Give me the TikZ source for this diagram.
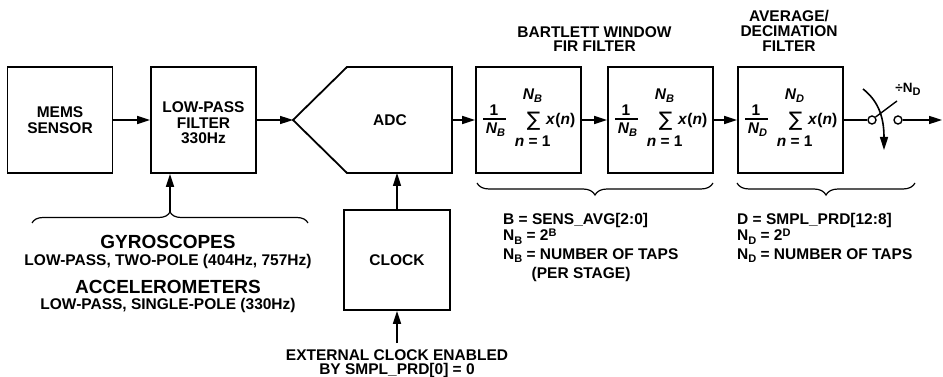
\documentclass[tikz,border=0pt]{standalone}
\usepackage{fontspec}
\setmainfont{Liberation Sans}
\newfontfamily\dejavu{DejaVu Sans}
\usetikzlibrary{arrows.meta,decorations.pathreplacing,calc}
\newcommand\lo[1]{\raisebox{-3.5pt}{\fontsize{11}{11}\selectfont #1}}
\newcommand\hi[1]{\raisebox{4.5pt}{\fontsize{11}{11}\selectfont #1}}
\begin{document}
\begin{tikzpicture}[x=1pt,y=-1pt,
  txt/.style={font=\fontsize{15.5}{14.5}\selectfont\bfseries, inner sep=0pt, align=center},
  big/.style={font=\fontsize{19}{19}\selectfont\bfseries, inner sep=0pt},
  blk/.style={draw, line width=1.8pt, minimum width=105pt, minimum height=106pt, inner sep=0pt, align=center, font=\fontsize{15.5}{15.5}\selectfont\bfseries},
  conn/.style={line width=1.6pt, -{Triangle[length=13pt,width=8pt]}},
  plain/.style={line width=1.6pt},
  brc/.style={line width=1.2pt, decorate, decoration={brace, amplitude=11pt}},
  brcm/.style={line width=1.2pt, decorate, decoration={brace, mirror, amplitude=12pt}},
  ftxt/.style={font=\fontsize{15.5}{15.5}\selectfont\bfseries, inner sep=0pt},
  pics/firsum/.style={code={
    \node[ftxt, anchor=base] (-one) at (-34.5,-4) {1};
    \draw[line width=1.3pt] (-45.5,-1) -- (-22.5,-1);
    \node[ftxt, anchor=base] (-den) at (-33,13.3) {\textit{N\lo{#1}}};
    \node[inner sep=0pt, font=\dejavu\fontsize{20}{20}\selectfont] (-sum) at (5,1.7) {∑};
    \node[ftxt, anchor=base] (-top) at (4,-20.7) {\textit{N\lo{#1}}};
    \node[ftxt, anchor=base] (-bot) at (4.2,26.7) {\textit{n} = 1};
    \node[ftxt, anchor=base] (-xn) at (32.2,5) {\textit{x}(\textit{n})};
  }},
]
\useasboundingbox (0,0) rectangle (943,377);
% blocks
\node[blk] (mems) at (60,120) {MEMS\\SENSOR};
\node[blk] (lpf) at (203.5,120) {};
\node[txt, font=\fontsize{15.5}{15.5}\selectfont\bfseries] (lpft) at (203.5,123) {LOW-PASS\\FILTER\\330Hz};
\draw[line width=1.8pt] (293,120) -- (347,67) -- (452,67) -- (452,173) -- (347,173) -- cycle;
\node[txt] (adc) at (390,120) {ADC};
\coordinate (adcin) at (293,120);
\coordinate (adcout) at (452,120);
\coordinate (adcbot) at (397,173);
\node[blk, minimum width=106pt, minimum height=100pt] (clock) at (397,260) {CLOCK};
\coordinate (extin) at (397,343);
\node[txt, anchor=north, font=\fontsize{15.5}{14.2}\selectfont\bfseries] (ext) at (397,349.5) {EXTERNAL CLOCK ENABLED\\BY SMPL\_PRD[0] = 0};
\node[blk] (b1) at (528.5,120) {};
\node[blk] (b2) at (660.5,120) {};
\node[blk] (dec) at (790.5,120) {};
\pic (f1) at (528.5,120) {firsum=B};
\pic (f2) at (660.5,120) {firsum=B};
\pic (f3) at (790.5,120) {firsum=D};
% titles
\node[txt, anchor=north, font=\fontsize{15.5}{14}\selectfont\bfseries] (bt) at (594.5,26) {BARTLETT WINDOW\\FIR FILTER};
\node[txt, anchor=north, font=\fontsize{15.5}{15}\selectfont\bfseries] (at) at (789,10) {AVERAGE/\\DECIMATION\\FILTER};
% connectors
\draw[conn] (mems) -- (lpf);
\draw[conn] (lpf) -- (adcin);
\draw[conn] (adcout) -- (b1);
\draw[conn] (b1) -- (b2);
\draw[conn] (b2) -- (dec);
\draw[conn] (clock.north) -- (adcbot);
\draw[conn] (extin) -- (clock.south);
% switch
\node[circle, draw, line width=1.4pt, minimum size=8pt, inner sep=0pt] (s1) at (872,120) {};
\node[circle, draw, line width=1.4pt, minimum size=8pt, inner sep=0pt] (s2) at (898,120) {};
\coordinate (outend) at (942,120);
\coordinate (lev) at (897,101);
\coordinate (sw1) at (863,89);
\coordinate (sw2) at (884,150);
\draw[plain] (dec) -- (s1);
\draw[conn] (s2) -- (outend);
\draw[line width=1.4pt] (s1.40) -- (lev);
\draw[conn] (sw1) .. controls (877,100) and (884,115) .. (sw2);
\node[ftxt, anchor=base, font=\fontsize{13.5}{13.5}\selectfont\bfseries] (nd) at (908,92.3) {÷N\lo{D}};
% braces
\draw[brc] (32,223) -- (308,223);
\coordinate (gcusp) at (170,212);
\draw[conn] (gcusp) -- (gcusp |- lpf.south);
\draw[brcm] (477,183) -- (713,183);
\draw[brcm] (737,183) -- (915,183);
% lower-left text
\node[big, anchor=base] (gyro) at (168,248) {GYROSCOPES};
\node[txt, anchor=base] (gyros) at (168,265.7) {LOW-PASS, TWO-POLE (404Hz, 757Hz)};
\node[big, anchor=base] (acc) at (168,293) {ACCELEROMETERS};
\node[txt, anchor=base] (accs) at (168,309.5) {LOW-PASS, SINGLE-POLE (330Hz)};
% lower-right text
\node[txt, anchor=base west] (l1) at (503,225) {B = SENS\_AVG[2:0]};
\node[txt, anchor=base west] (l2) at (503,240.5) {N\lo{B} = 2\hi{B}};
\node[txt, anchor=base west] (l3) at (503,259) {N\lo{B} = NUMBER OF TAPS};
\node[txt, anchor=base west] (l4) at (531.5,278) {(PER STAGE)};
\node[txt, anchor=base west] (r1) at (737,225) {D = SMPL\_PRD[12:8]};
\node[txt, anchor=base west] (r2) at (737,240.5) {N\lo{D} = 2\hi{D}};
\node[txt, anchor=base west] (r3) at (737,259) {N\lo{D} = NUMBER OF TAPS};
\end{tikzpicture}
\end{document}
